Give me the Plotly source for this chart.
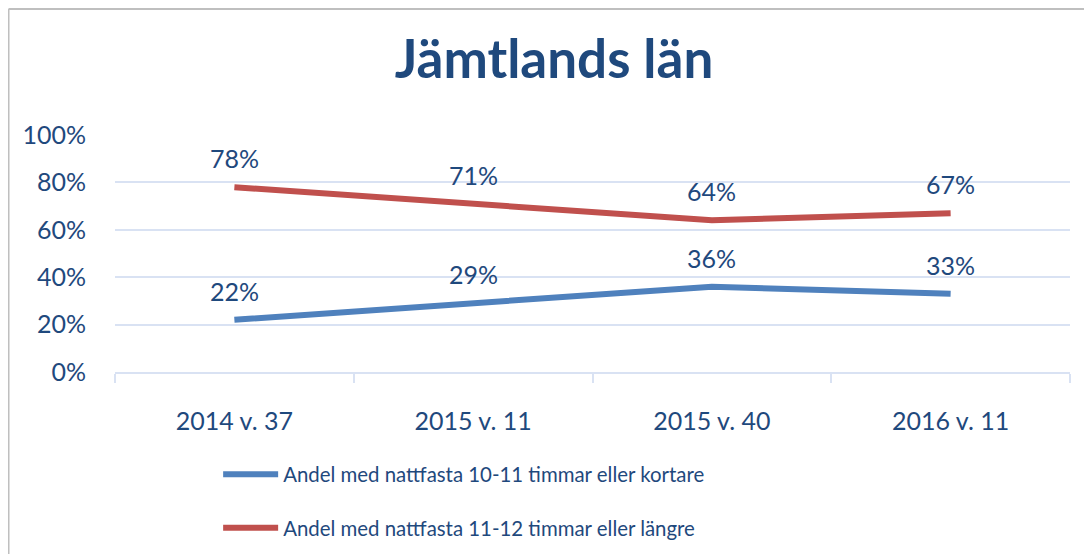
import plotly.graph_objects as go

categories = ["2014 v. 37", "2015 v. 11", "2015 v. 40", "2016 v. 11"]
short_fast = [0.22, 0.29, 0.36, 0.33]
long_fast = [0.78, 0.71, 0.64, 0.67]
series_names = [
    "Andel med nattfasta 10-11 timmar eller kortare",
    "Andel med nattfasta 11-12 timmar eller längre",
]
y_ticks = [0, 0.2, 0.4, 0.6, 0.8, 1.0]
y_tick_labels = ["0%", "20%", "40%", "60%", "80%", "100%"]

TEXT = "#1F497D"
GRID = "#D9E2F3"
FONT = "Lato"

fig = go.Figure()
for i, (vals, name, color) in enumerate([(short_fast, series_names[0], "#4F81BD"),
                                         (long_fast, series_names[1], "#C0504D")]):
    fig.add_trace(go.Scatter(
        x=categories, y=vals, mode="lines", name=name, legendgroup=f"g{i}",
        line=dict(color=color, width=6),
    ))
    # data labels above each point
    for c, v in zip(categories, vals):
        fig.add_annotation(x=c, y=v, text=f"{round(v * 100)}%", showarrow=False,
                           yshift=29, font=dict(size=25, color=TEXT, family=FONT))

fig.update_layout(
    width=1084, height=546,
    margin=dict(l=107, r=22, t=127, b=182),
    paper_bgcolor="white", plot_bgcolor="white",
    font=dict(family=FONT, color=TEXT),
    title=dict(text="<b>Jämtlands län</b>", x=0.5037, xref="container", xanchor="center",
               y=0.906, yanchor="middle", font=dict(size=53, color=TEXT, family=FONT)),
    xaxis=dict(
        type="category", range=[-0.5, 3.5], tickson="boundaries",
        ticks="outside", ticklen=9, tickwidth=2, tickcolor=GRID,
        showline=True, linecolor=GRID, linewidth=2, showgrid=False,
        tickfont=dict(size=25, color=TEXT), ticklabelstandoff=26, automargin=False,
    ),
    yaxis=dict(
        range=[0, 1], tickvals=y_ticks, ticktext=y_tick_labels,
        showgrid=True, gridcolor=GRID, gridwidth=2, zeroline=False,
        tickfont=dict(size=25, color=TEXT), ticklabelstandoff=28, automargin=False,
    ),
    legend=dict(x=0.108, y=0.1824, yref="container", xanchor="left", yanchor="top",
                font=dict(size=20.4, color=TEXT), traceorder="grouped",
                tracegroupgap=24, itemwidth=55, bgcolor="rgba(0,0,0,0)"),
    showlegend=True,
)

# outer chart border (top and left edges visible in the reference)
fig.add_shape(type="line", xref="paper", yref="paper", x0=-0.1115, x1=1.05, y0=1.5316, y1=1.5316,
              line=dict(color="#BFBFBF", width=2))
fig.add_shape(type="line", xref="paper", yref="paper", x0=-0.1115, x1=-0.1115, y0=1.5316, y1=-0.8,
              line=dict(color="#BFBFBF", width=2))

fig.write_html("out.html")
